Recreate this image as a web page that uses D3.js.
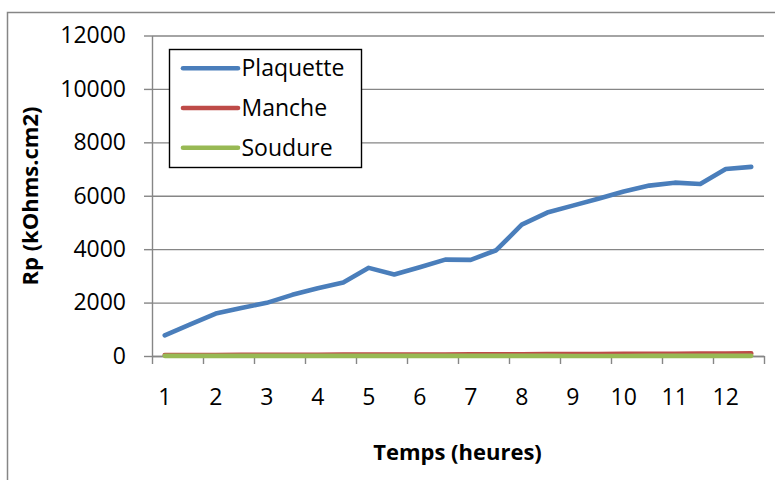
<!DOCTYPE html>
<html>
<head>
<meta charset="utf-8">
<script src="https://cdn.jsdelivr.net/npm/d3@7"></script>
<style>
  html, body { margin: 0; padding: 0; background: #fff; }
  svg { display: block; font-family: "Open Sans", Lato, sans-serif; }
</style>
</head>
<body>
<svg id="chart" width="775" height="480"></svg>
<script>
// Measurement times (hours), one sample every half hour
const hours = [1, 1.5, 2, 2.5, 3, 3.5, 4, 4.5, 5, 5.5, 6, 6.5,
               7, 7.5, 8, 8.5, 9, 9.5, 10, 10.5, 11, 11.5, 12, 12.5];

// Polarisation resistance Rp (kOhms.cm2)
const plaquette = [770, 1180, 1590, 1800, 1990, 2290, 2540, 2750, 3300, 3050, 3320, 3610,
                   3600, 3960, 4920, 5370, 5630, 5890, 6160, 6380, 6490, 6440, 7000, 7080];
const manche    = [35, 38, 40, 42, 44, 46, 48, 50, 52, 54, 56, 58,
                   60, 62, 66, 70, 72, 75, 78, 82, 86, 90, 94, 98];
const soudure   = [6, 6, 6, 6, 6, 6, 6, 6, 6, 6, 6, 6,
                   6, 6, 6, 4, 0, -2, 0, 4, 6, 6, 6, 6];

const seriesNames  = ["Plaquette", "Manche", "Soudure"];
const seriesColors = ["#4a7ebb", "#be4b48", "#98b954"];
const seriesValues = [plaquette, manche, soudure];

const xTickLabels = ["1", "2", "3", "4", "5", "6", "7", "8", "9", "10", "11", "12"];
const yTicks = [0, 2000, 4000, 6000, 8000, 10000, 12000];

const FONT = "'Open Sans', Lato, sans-serif";
const FS = "23px";
const FS_TITLE = "22px";

const svg = d3.select("#chart");
const axisGray = "#868686";

// outer chart frame
svg.append("rect")
  .attr("x", 7.5).attr("y", 12.5)
  .attr("width", 820).attr("height", 520)
  .attr("fill", "none").attr("stroke", axisGray).attr("stroke-width", 1.5);

const plotLeft = 152, plotRight = 764, plotTop = 35.5, plotBottom = 356;
const W = plotRight - plotLeft;

const x = d3.scaleBand().domain(hours).range([plotLeft, plotRight]).padding(0);
const xEdge = d3.scaleLinear().domain([0, hours.length]).range([plotLeft, plotRight]);
const y = d3.scaleLinear().domain([0, 12000]).range([plotBottom, plotTop]);
const cx = h => x(h) + x.bandwidth() / 2;

// horizontal gridlines
svg.append("g")
  .attr("transform", `translate(${plotLeft},0)`)
  .call(d3.axisLeft(y).tickValues(yTicks).tickSize(-W).tickFormat(""))
  .call(g => g.select(".domain").remove())
  .call(g => g.selectAll("line").attr("stroke", axisGray).attr("stroke-width", 1.4));

// y axis with outward ticks and labels
svg.append("g")
  .attr("transform", `translate(${plotLeft},0)`)
  .call(d3.axisLeft(y).tickValues(yTicks).tickFormat(d3.format("d"))
    .tickSizeInner(8).tickSizeOuter(0).tickPadding(18))
  .call(g => g.select(".domain").attr("stroke", axisGray).attr("stroke-width", 1.4))
  .call(g => g.selectAll("line").attr("stroke", axisGray).attr("stroke-width", 1.4))
  .call(g => g.selectAll("text").attr("fill", "#000")
    .style("font-size", FS).style("font-family", FONT));

// x axis line and tick marks between every pair of samples
svg.append("g")
  .attr("transform", `translate(0,${plotBottom})`)
  .call(d3.axisBottom(xEdge).tickValues(d3.range(0, hours.length + 1, 2))
    .tickSizeInner(8).tickSizeOuter(0).tickFormat(""))
  .call(g => g.select(".domain").attr("stroke", axisGray).attr("stroke-width", 1.4))
  .call(g => g.selectAll("line").attr("stroke", axisGray).attr("stroke-width", 1.4));

// x tick labels on the whole hours
svg.append("g")
  .attr("transform", `translate(0,${plotBottom})`)
  .call(d3.axisBottom(x)
    .tickValues(hours.filter(h => Number.isInteger(h)))
    .tickFormat((h, i) => xTickLabels[i])
    .tickSize(0).tickPadding(33))
  .call(g => g.select(".domain").remove())
  .call(g => g.selectAll("text").attr("fill", "#000")
    .style("font-size", FS).style("font-family", FONT));

// series lines
const line = d3.line().x((d, i) => cx(hours[i])).y(d => y(d));
seriesValues.forEach((vals, k) => {
  svg.append("path")
    .datum(vals)
    .attr("d", line)
    .attr("fill", "none")
    .attr("stroke", seriesColors[k])
    .attr("stroke-width", 4.6)
    .attr("stroke-linejoin", "round")
    .attr("stroke-linecap", "round");
});

// axis titles
svg.append("text")
  .attr("x", 457.5).attr("y", 460)
  .attr("text-anchor", "middle")
  .style("font-size", FS_TITLE).style("font-weight", "bold")
  .text("Temps (heures)");

svg.append("text")
  .attr("transform", "translate(38,196) rotate(-90)")
  .attr("text-anchor", "middle")
  .style("font-size", FS_TITLE).style("font-weight", "bold")
  .text("Rp (kOhms.cm2)");

// legend
const legend = svg.append("g");
legend.append("rect")
  .attr("x", 169.5).attr("y", 49.5).attr("width", 192).attr("height", 118)
  .attr("fill", "#fff").attr("stroke", "#000").attr("stroke-width", 1.4);

const ly = d3.scalePoint().domain(seriesNames).range([68.3, 147.7]);
seriesNames.forEach((name, k) => {
  legend.append("line")
    .attr("x1", 183).attr("x2", 238)
    .attr("y1", ly(name)).attr("y2", ly(name))
    .attr("stroke", seriesColors[k]).attr("stroke-width", 4.6)
    .attr("stroke-linecap", "round");
  legend.append("text")
    .attr("x", 241.5).attr("y", ly(name)).attr("dy", "0.35em")
    .style("font-size", FS)
    .text(name);
});
</script>
</body>
</html>
